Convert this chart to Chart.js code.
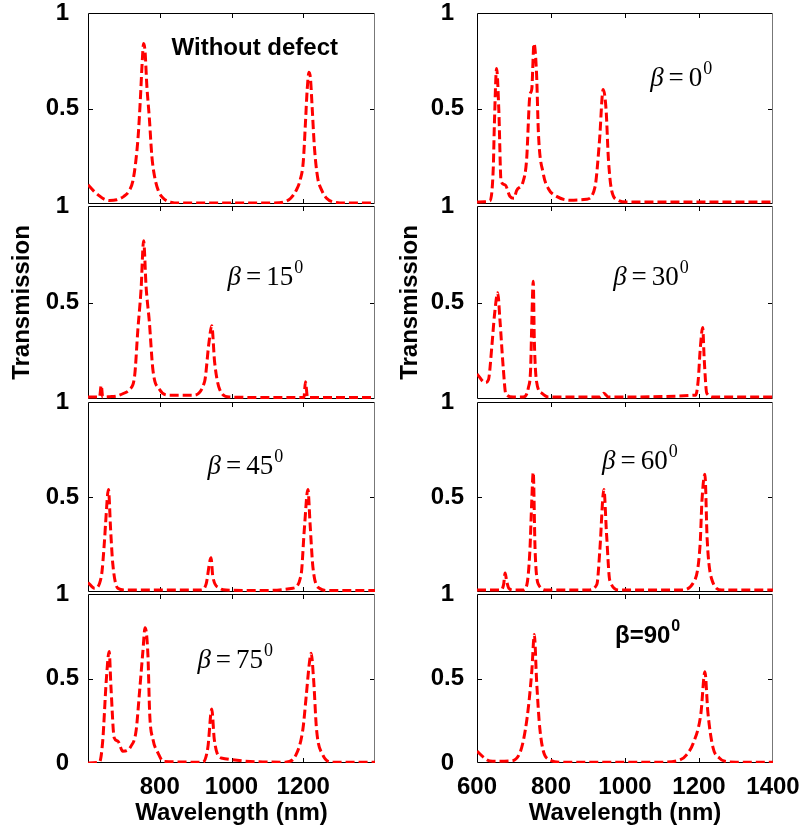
<!DOCTYPE html>
<html lang="en">
<head>
<meta charset="UTF-8">
<title>Transmission spectra</title>
<script src="https://cdn.jsdelivr.net/npm/chart.js"></script>
<style>
  body { margin: 0; background: #fff; }
  #figure { position: relative; width: 801px; height: 832px; overflow: hidden; }
  #figure canvas { position: absolute; }
</style>
</head>
<body>
<div id="figure"></div>
<script>
// ---- data (wavelength in nm, transmission 0..1) ----
const noDefectWl = [600, 615, 630, 645, 660, 680, 700, 715, 725, 733, 740, 746, 751, 755, 759, 764, 771, 778, 786, 796, 810, 830, 860, 1000, 1120, 1145, 1165, 1180, 1192, 1200, 1206, 1211, 1216, 1220, 1225, 1231, 1240, 1252, 1265, 1285, 1320, 1400];
const noDefectT  = [0.10, 0.07, 0.045, 0.025, 0.018, 0.022, 0.04, 0.07, 0.12, 0.22, 0.36, 0.55, 0.74, 0.84, 0.8, 0.62, 0.45, 0.25, 0.14, 0.07, 0.03, 0.01, 0.005, 0.005, 0.005, 0.01, 0.03, 0.07, 0.13, 0.22, 0.42, 0.6, 0.69, 0.66, 0.5, 0.3, 0.14, 0.07, 0.03, 0.01, 0.005, 0.005];

const beta0Wl = [600, 620, 635, 644, 647, 653, 659, 665, 676, 689, 700, 707, 725, 734, 743, 748, 754, 761, 766, 779, 793, 815, 851, 896, 919, 931, 941, 949, 955, 964, 981, 1005, 1200, 1400];
const beta0T  = [0.01, 0.012, 0.016, 0.19, 0.42, 0.71, 0.49, 0.12, 0.1, 0.04, 0.03, 0.07, 0.12, 0.23, 0.57, 0.6, 0.84, 0.68, 0.37, 0.16, 0.08, 0.04, 0.02, 0.025, 0.09, 0.33, 0.6, 0.49, 0.24, 0.07, 0.02, 0.01, 0.01, 0.01];

const beta15Wl = [600, 618, 632, 637, 641, 660, 679, 700, 716, 730, 739, 748, 755, 762, 771, 781, 799, 827, 892, 925, 937, 945, 953, 967, 994, 1100, 1202, 1206, 1212, 1300, 1400];
const beta15T  = [0.01, 0.01, 0.01, 0.07, 0.01, 0.012, 0.015, 0.03, 0.05, 0.12, 0.36, 0.57, 0.82, 0.58, 0.4, 0.15, 0.05, 0.02, 0.02, 0.09, 0.29, 0.38, 0.19, 0.05, 0.01, 0.008, 0.008, 0.09, 0.008, 0.008, 0.008];

const beta30Wl = [600, 622, 631, 640, 647, 656, 662, 671, 678, 698, 725, 739, 745, 748, 752, 755, 761, 775, 793, 930, 943, 955, 1191, 1198, 1203, 1210, 1214, 1221, 1240, 1400];
const beta30T  = [0.13, 0.085, 0.1, 0.27, 0.43, 0.55, 0.41, 0.16, 0.025, 0.01, 0.01, 0.06, 0.16, 0.39, 0.61, 0.3, 0.09, 0.03, 0.01, 0.01, 0.03, 0.01, 0.02, 0.1, 0.25, 0.37, 0.21, 0.03, 0.01, 0.01];

const beta45Wl = [600, 618, 637, 646, 649, 657, 663, 669, 683, 707, 800, 915, 929, 943, 948, 967, 985, 1100, 1171, 1194, 1203, 1213, 1219, 1227, 1245, 1270, 1400];
const beta45T  = [0.05, 0.02, 0.08, 0.27, 0.36, 0.54, 0.33, 0.15, 0.02, 0.01, 0.01, 0.01, 0.04, 0.18, 0.08, 0.02, 0.01, 0.008, 0.02, 0.09, 0.33, 0.54, 0.36, 0.13, 0.02, 0.008, 0.008];

const beta60Wl = [600, 665, 672, 676, 680, 686, 700, 725, 735, 743, 748, 752, 757, 766, 790, 900, 924, 932, 943, 950, 959, 986, 1150, 1185, 1203, 1208, 1216, 1222, 1234, 1262, 1400];
const beta60T  = [0.01, 0.01, 0.04, 0.1, 0.06, 0.02, 0.01, 0.01, 0.04, 0.22, 0.48, 0.63, 0.22, 0.04, 0.01, 0.01, 0.04, 0.22, 0.54, 0.31, 0.06, 0.01, 0.01, 0.05, 0.25, 0.48, 0.62, 0.28, 0.07, 0.01, 0.01];

const beta75Wl = [600, 632, 641, 651, 659, 664, 673, 683, 697, 720, 734, 744, 753, 759, 767, 772, 781, 795, 810, 920, 934, 945, 952, 971, 1150, 1180, 1199, 1208, 1217, 1222, 1229, 1237, 1254, 1282, 1400];
const beta75T  = [0.0, 0.005, 0.13, 0.49, 0.66, 0.45, 0.15, 0.13, 0.07, 0.1, 0.19, 0.43, 0.66, 0.8, 0.64, 0.29, 0.14, 0.06, 0.01, 0.005, 0.09, 0.32, 0.14, 0.03, 0.005, 0.05, 0.2, 0.39, 0.59, 0.65, 0.49, 0.2, 0.05, 0.005, 0.005];

const beta90Wl = [600, 620, 635, 660, 689, 716, 735, 748, 755, 761, 770, 788, 830, 1100, 1150, 1167, 1185, 1205, 1216, 1224, 1238, 1255, 1270, 1300, 1400];
const beta90T  = [0.07, 0.03, 0.012, 0.01, 0.012, 0.06, 0.26, 0.54, 0.76, 0.49, 0.2, 0.03, 0.005, 0.005, 0.02, 0.05, 0.12, 0.29, 0.54, 0.3, 0.09, 0.03, 0.01, 0.005, 0.005];

// tick labels
const leftXTicks = [800, 1000, 1200];
const rightXTicks = [600, 800, 1000, 1200, 1400];
const upperYTicks = [0.5, 1];
const bottomYTicks = [0, 0.5, 1];
const innerXTicks = [800, 1000, 1200];
const innerYTicks = [0.5];

// ---- layout ----
const columns = [
  { left: 0,   width: 385, axisWidth: 88, padRight: 10, tickPad: 9,  titlePad: 10, xTicks: leftXTicks },
  { left: 396, width: 405, axisWidth: 81, padRight: 28, tickPad: 13, titlePad: 2,  xTicks: rightXTicks }
];
const rows = [
  { top: 13,  bottom: 204 },
  { top: 206, bottom: 399 },
  { top: 402, bottom: 592 },
  { top: 594, bottom: 763 }
];
const PAGE_H = 832;

const panels = [
  { col: 0, row: 0, wl: noDefectWl, t: noDefectT, note: { kind: 'plain', text: 'Without defect', at: [833, 0.78] } },
  { col: 1, row: 0, wl: beta0Wl,  t: beta0T,  note: { kind: 'math', angle: '0',  at: [1068, 0.62] } },
  { col: 0, row: 1, wl: beta15Wl, t: beta15T, note: { kind: 'math', angle: '15', at: [989, 0.59] } },
  { col: 1, row: 1, wl: beta30Wl, t: beta30T, note: { kind: 'math', angle: '30', at: [968, 0.59] } },
  { col: 0, row: 2, wl: beta45Wl, t: beta45T, note: { kind: 'math', angle: '45', at: [933, 0.62] } },
  { col: 1, row: 2, wl: beta60Wl, t: beta60T, note: { kind: 'math', angle: '60', at: [938, 0.65] } },
  { col: 0, row: 3, wl: beta75Wl, t: beta75T, note: { kind: 'math', angle: '75', at: [905, 0.565] } },
  { col: 1, row: 3, wl: beta90Wl, t: beta90T, note: { kind: 'bold', angle: '90', at: [973, 0.71] } }
];

const sansFamily = '"Liberation Sans", Arial, sans-serif';
const tickFont = { family: sansFamily, size: 24, weight: 'bold', lineHeight: 1 };

// draw the annotation text of a panel
function drawNote(ctx, note, x0, y0) {
  ctx.fillStyle = '#000';
  ctx.textBaseline = 'alphabetic';
  ctx.textAlign = 'left';
  if (note.kind === 'plain') {
    ctx.font = 'bold 24px ' + sansFamily;
    ctx.fillText(note.text, x0, y0);
    return;
  }
  if (note.kind === 'bold') {
    ctx.font = 'bold 24px ' + sansFamily;
    const main = 'β=' + note.angle;
    ctx.fillText(main, x0, y0);
    const w = ctx.measureText(main).width;
    ctx.font = 'bold 16px ' + sansFamily;
    ctx.fillText('0', x0 + w + 1, y0 - 12);
    return;
  }
  let x = x0;
  ctx.font = 'italic 27px "Liberation Serif", serif';
  ctx.fillText('β', x, y0);
  x += ctx.measureText('β').width + 5;
  ctx.font = '27px "Liberation Serif", serif';
  ctx.fillText('=', x, y0);
  x += ctx.measureText('=').width + 5;
  ctx.fillText(note.angle, x, y0);
  x += ctx.measureText(note.angle).width + 1;
  ctx.font = '18px "Liberation Serif", serif';
  ctx.fillText('0', x, y0 - 12);
}

// box + inward ticks like the original figure
const framePlugin = {
  id: 'frame',
  beforeDatasetsDraw(chart) {
    const { ctx, chartArea: a, scales: { x, y } } = chart;
    ctx.save();
    ctx.lineWidth = 1;
    ctx.strokeStyle = '#000';
    ctx.beginPath();
    ctx.moveTo(a.right, a.top + 0.5);
    ctx.lineTo(a.left + 0.5, a.top + 0.5);
    ctx.lineTo(a.left + 0.5, a.bottom - 0.5);
    ctx.lineTo(a.right, a.bottom - 0.5);
    innerXTicks.forEach(v => {
      const px = Math.round(x.getPixelForValue(v)) + 0.5;
      ctx.moveTo(px, a.bottom); ctx.lineTo(px, a.bottom - 5);
      ctx.moveTo(px, a.top); ctx.lineTo(px, a.top + 5);
    });
    innerYTicks.forEach(v => {
      const py = Math.round(y.getPixelForValue(v)) + 0.5;
      ctx.moveTo(a.left, py); ctx.lineTo(a.left + 5, py);
      ctx.moveTo(a.right, py); ctx.lineTo(a.right - 5, py);
    });
    ctx.stroke();
    ctx.strokeStyle = '#777';
    ctx.beginPath();
    ctx.moveTo(a.right - 0.5, a.top);
    ctx.lineTo(a.right - 0.5, a.bottom);
    ctx.stroke();
    ctx.restore();
  },
  afterDraw(chart, args, opts) {
    const note = opts.note;
    if (!note) return;
    const { ctx, scales: { x, y } } = chart;
    ctx.save();
    drawNote(ctx, note, x.getPixelForValue(note.at[0]), y.getPixelForValue(note.at[1]));
    ctx.restore();
  }
};

const figure = document.getElementById('figure');

panels.forEach(p => {
  const col = columns[p.col];
  const row = rows[p.row];
  const isBottom = p.row === rows.length - 1;
  const top = row.top - 16;
  const height = isBottom ? PAGE_H - top : (row.bottom - row.top) + 32;
  const xAxisHeight = isBottom ? PAGE_H - row.bottom : 0;

  const canvas = document.createElement('canvas');
  canvas.width = col.width;
  canvas.height = height;
  canvas.style.left = col.left + 'px';
  canvas.style.top = top + 'px';
  figure.appendChild(canvas);

  const yVals = isBottom ? bottomYTicks : upperYTicks;

  new Chart(canvas.getContext('2d'), {
    type: 'line',
    data: {
      datasets: [{
        data: p.wl.map((w, i) => ({ x: w, y: p.t[i] })),
        borderColor: '#ff0000',
        borderWidth: 3,
        borderDash: [9, 4],
        pointRadius: 0,
        fill: false,
        cubicInterpolationMode: 'monotone'
      }]
    },
    options: {
      responsive: false,
      animation: false,
      devicePixelRatio: 1,
      layout: { padding: { left: 0, right: col.padRight, top: 16, bottom: isBottom ? 0 : 16 } },
      plugins: {
        legend: { display: false },
        tooltip: { enabled: false },
        frame: { note: p.note }
      },
      scales: {
        x: {
          type: 'linear',
          min: 600,
          max: 1400,
          display: isBottom,
          grid: { display: false, drawTicks: false },
          border: { display: false },
          ticks: { color: '#000', font: tickFont, padding: 12, maxRotation: 0, autoSkip: false, callback: v => String(v) },
          afterBuildTicks: s => { s.ticks = col.xTicks.map(v => ({ value: v })); },
          afterFit: s => { s.height = xAxisHeight; s.paddingLeft = 0; s.paddingRight = 0; },
          title: {
            display: isBottom,
            text: 'Wavelength (nm)',
            color: '#000',
            font: { family: sansFamily, size: 24, weight: 'bold', lineHeight: 1 },
            padding: { top: 0, bottom: 7 }
          }
        },
        y: {
          type: 'linear',
          min: 0,
          max: 1,
          grid: { display: false, drawTicks: false },
          border: { display: false },
          ticks: { color: '#000', font: tickFont, padding: col.tickPad, crossAlign: 'center', callback: v => String(v) },
          afterBuildTicks: s => { s.ticks = yVals.map(v => ({ value: v })); },
          afterFit: s => { s.width = col.axisWidth; s.paddingTop = 0; s.paddingBottom = 0; },
          title: {
            display: p.row === 1,
            text: 'Transmission',
            color: '#000',
            font: { family: sansFamily, size: 24, weight: 'bold', lineHeight: 1 },
            padding: { top: col.titlePad, bottom: 0 }
          }
        }
      }
    },
    plugins: [framePlugin]
  });
});
</script>
</body>
</html>
